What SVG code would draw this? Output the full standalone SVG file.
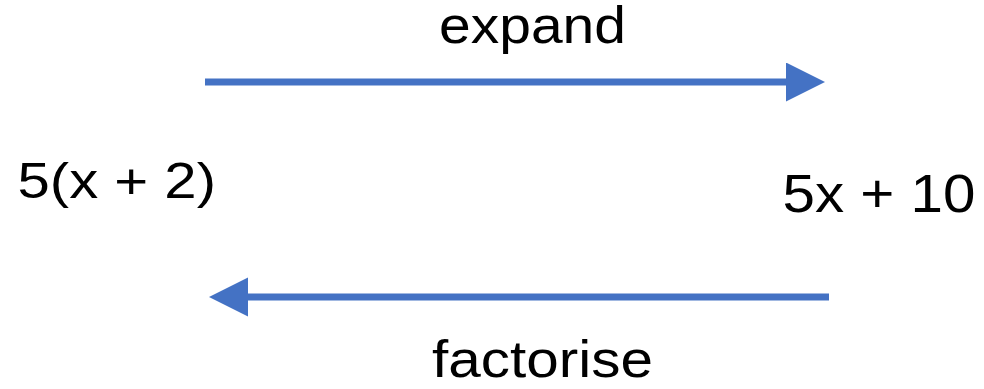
<svg xmlns="http://www.w3.org/2000/svg" width="984" height="389" viewBox="0 0 984 389">
  <style>
    .lbl { font-family: "Liberation Sans", Arial, sans-serif; fill: #000000; }
    .arrow { stroke: #4472C4; stroke-width: 7; fill: none; }
  </style>
  <defs>
    <marker id="head" markerUnits="userSpaceOnUse" markerWidth="40" markerHeight="40" refX="0" refY="19.5" orient="auto">
      <path d="M0,0 L39,19.5 L0,39 Z" fill="#4472C4"/>
    </marker>
  </defs>
  <rect width="984" height="389" fill="#ffffff"/>

  <g id="connectors">
    <line id="expand-arrow" class="arrow" x1="205" y1="82" x2="786" y2="82" marker-end="url(#head)"/>
    <line id="factorise-arrow" class="arrow" x1="829" y1="297" x2="248" y2="297" marker-end="url(#head)"/>
  </g>

  <g id="factored">
    <text class="lbl" x="17.5" y="198" font-size="50" textLength="198.5" lengthAdjust="spacingAndGlyphs">5(x + 2)</text>
  </g>
  <g id="expanded">
    <text class="lbl" x="782.5" y="212" font-size="54" textLength="193" lengthAdjust="spacingAndGlyphs">5x + 10</text>
  </g>
  <g id="label-expand">
    <text class="lbl" x="439" y="43" font-size="52" textLength="187" lengthAdjust="spacingAndGlyphs">expand</text>
  </g>
  <g id="label-factorise">
    <text class="lbl" x="432" y="377" font-size="52" textLength="221" lengthAdjust="spacingAndGlyphs">factorise</text>
  </g>
</svg>
